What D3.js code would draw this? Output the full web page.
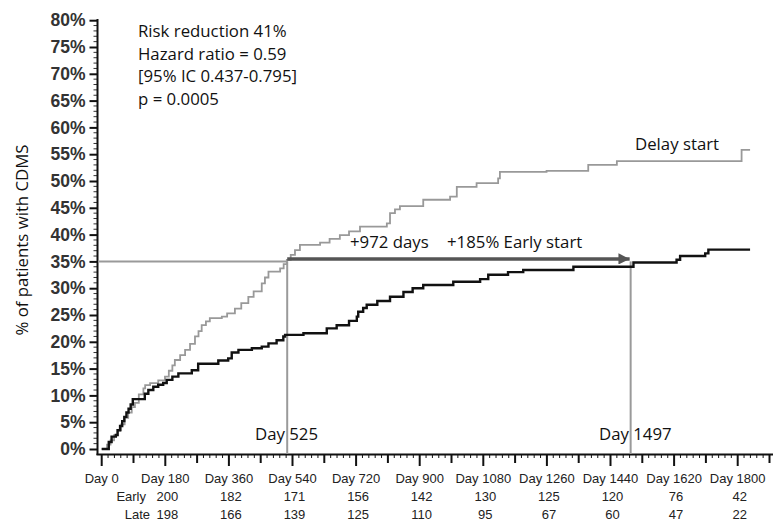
<!DOCTYPE html>
<html>
<head>
<meta charset="utf-8">
<script src="https://cdn.jsdelivr.net/npm/d3@7"></script>
<style>
  body { margin: 0; background: #fff; }
  svg { display: block; }
  .note { font-family: "Open Sans", sans-serif; font-size: 16.8px; fill: #111; }
  .ytick text { font-family: "Liberation Sans", Arial, sans-serif; font-size: 17.5px; font-weight: bold; fill: #333; }
  .xlab { font-family: "Liberation Sans", Arial, sans-serif; font-size: 13px; fill: #222; }
</style>
</head>
<body>
<svg id="chart" width="773" height="522"></svg>
<script>
// step curves: [day, % of patients with CDMS]
var early_days = [0, 20, 28, 40, 45, 52, 58, 64, 70, 76, 82, 88, 122, 132, 146, 160, 174, 184, 200, 217, 255, 273, 330, 358, 368, 387, 425, 453, 472, 495, 514, 519, 571, 637, 665, 700, 722, 726, 740, 750, 780, 816, 854, 880, 910, 995, 1071, 1094, 1150, 1193, 1335, 1505, 1627, 1637, 1708, 1717, 1835];
var early_pct = [0, 1.3, 2.3, 2.6, 3.5, 4.3, 5.2, 6.0, 6.8, 7.5, 8.3, 9.3, 10.3, 11.0, 11.6, 12.0, 12.3, 12.9, 13.5, 14.1, 14.7, 15.9, 16.5, 16.9, 18.0, 18.5, 18.8, 19.1, 19.7, 20.3, 21.0, 21.3, 21.6, 22.5, 23.1, 23.9, 24.7, 25.6, 26.3, 26.9, 27.6, 28.4, 29.3, 30.0, 30.6, 31.2, 31.7, 32.5, 33.0, 33.4, 34.0, 34.8, 35.3, 36.0, 36.5, 37.2, 37.2];

var delay_days = [0, 15, 25, 35, 45, 55, 65, 75, 85, 94, 105, 118, 123, 137, 160, 179, 190, 200, 207, 222, 236, 250, 264, 274, 283, 295, 306, 340, 355, 377, 395, 415, 430, 453, 462, 472, 505, 515, 524, 535, 547, 561, 618, 645, 674, 700, 731, 807, 816, 830, 844, 910, 986, 1005, 1061, 1122, 1127, 1259, 1377, 1458, 1811, 1835];
var delay_pct = [0, 0.8, 1.6, 2.6, 3.5, 4.6, 5.8, 6.8, 7.8, 8.6, 10.2, 11.3, 11.9, 12.3, 12.8, 13.5, 14.6, 15.6, 16.6, 17.5, 18.5, 19.6, 21.0, 22.0, 23.1, 23.8, 24.4, 24.7, 25.3, 26.2, 27.2, 28.4, 29.4, 30.9, 32.0, 33.1, 33.7, 34.5, 35.3, 36.2, 37.1, 38.1, 38.5, 39.2, 39.9, 40.6, 41.5, 42.1, 44.0, 44.7, 45.3, 46.5, 47.1, 48.9, 49.6, 50.5, 51.7, 51.9, 53.0, 53.7, 55.8, 55.8];

var label_days = [0, 180, 360, 540, 720, 900, 1080, 1260, 1440, 1620, 1800];
var at_risk_early = [200, 182, 171, 156, 142, 130, 125, 120, 76, 42];
var at_risk_late = [198, 166, 139, 125, 110, 95, 67, 60, 47, 22];

var y_ticks = d3.range(0, 81, 5);
var stats_lines = ['Risk reduction 41%', 'Hazard ratio = 0.59', '[95% IC 0.437-0.795]', 'p = 0.0005'];
var level_pct = 35;
var day_early = 525, day_late = 1497;

var svg = d3.select('#chart');

var x = d3.scaleLinear().domain([0, 1800]).range([101.7, 737.7]);
var y = d3.scaleLinear().domain([0, 80]).range([449, 20.2]);

// y axis
var gy = svg.append('g').attr('class', 'ytick').attr('transform', 'translate(97.5,0)');
gy.call(d3.axisLeft(y).tickValues(y_ticks).tickSize(8).tickPadding(4)
    .tickFormat(function(d) { return d + '%'; }));
gy.select('.domain').remove();
gy.selectAll('line').attr('stroke', '#111').attr('stroke-width', 2);
gy.selectAll('.minor').data(d3.range(0, 81, 1).filter(function(d) { return d % 5 != 0; }))
    .enter().append('line')
    .attr('x1', -4).attr('x2', 0)
    .attr('y1', function(d) { return y(d); }).attr('y2', function(d) { return y(d); })
    .attr('stroke', '#333').attr('stroke-width', 1);
svg.append('line').attr('x1', 97.5).attr('x2', 97.5).attr('y1', 19).attr('y2', 455)
    .attr('stroke', '#111').attr('stroke-width', 2);

// x axis
svg.append('line').attr('x1', 96.5).attr('x2', 773).attr('y1', 454.5).attr('y2', 454.5)
    .attr('stroke', '#111').attr('stroke-width', 2);
svg.append('g').selectAll('line').data(d3.range(0, 1910, 18)).enter().append('line')
    .attr('x1', function(d) { return x(d); }).attr('x2', function(d) { return x(d); })
    .attr('y1', 454)
    .attr('y2', function(d) { return d % 180 == 0 ? 466 : (d % 90 == 0 ? 463 : 458); })
    .attr('stroke', '#111')
    .attr('stroke-width', function(d) { return d % 90 == 0 ? 2 : 1; });

svg.append('g').selectAll('text').data(label_days).enter().append('text')
    .attr('class', 'xlab').attr('text-anchor', 'middle')
    .attr('x', function(d) { return x(d); }).attr('y', 483)
    .text(function(d) { return 'Day ' + d; });

var risk_days = label_days.slice(1);
svg.append('g').selectAll('text').data(risk_days).enter().append('text')
    .attr('class', 'xlab').attr('text-anchor', 'middle')
    .attr('x', function(d) { return x(d) + 2; }).attr('y', 501)
    .text(function(d, i) { return at_risk_early[i]; });
svg.append('g').selectAll('text').data(risk_days).enter().append('text')
    .attr('class', 'xlab').attr('text-anchor', 'middle')
    .attr('x', function(d) { return x(d) + 2; }).attr('y', 519)
    .text(function(d, i) { return at_risk_late[i]; });
svg.append('text').attr('class', 'xlab').attr('text-anchor', 'end')
    .attr('x', 146).attr('y', 501).text('Early');
svg.append('text').attr('class', 'xlab').attr('text-anchor', 'end')
    .attr('x', 150).attr('y', 519).text('Late');

// reference lines
var ref = '#9a9a9a';
svg.append('line').attr('x1', 98).attr('x2', x(day_early))
    .attr('y1', y(level_pct)).attr('y2', y(level_pct))
    .attr('stroke', ref).attr('stroke-width', 2);
[day_early, day_late].forEach(function(d) {
    svg.append('line').attr('x1', x(d)).attr('x2', x(d))
        .attr('y1', y(level_pct)).attr('y2', 454)
        .attr('stroke', ref).attr('stroke-width', 2);
});

// curves
var line = d3.line()
    .x(function(d) { return x(d[0]); })
    .y(function(d) { return y(d[1]); })
    .curve(d3.curveStepAfter);

svg.append('path').datum(d3.zip(delay_days, delay_pct))
    .attr('d', line).attr('fill', 'none')
    .attr('stroke', '#999').attr('stroke-width', 1.8);
svg.append('path').datum(d3.zip(early_days, early_pct))
    .attr('d', line).attr('fill', 'none')
    .attr('stroke', '#111').attr('stroke-width', 2.4);

// arrow
svg.append('defs').append('marker')
    .attr('id', 'head').attr('viewBox', '0 0 10 10')
    .attr('refX', 10).attr('refY', 5)
    .attr('markerWidth', 4).attr('markerHeight', 3.2)
    .attr('markerUnits', 'strokeWidth').attr('orient', 'auto')
    .append('path').attr('d', 'M0,0 L10,5 L0,10 Z').attr('fill', '#555');
svg.append('line').attr('x1', x(day_early)).attr('x2', x(day_late) - 1)
    .attr('y1', y(level_pct) - 2.5).attr('y2', y(level_pct) - 2.5)
    .attr('stroke', '#555').attr('stroke-width', 3.5)
    .attr('marker-end', 'url(#head)');

// text notes
svg.append('g').selectAll('text').data(stats_lines).enter().append('text')
    .attr('class', 'note').attr('x', 138)
    .attr('y', function(d, i) { return 37 + i * 22.7; })
    .text(function(d) { return d; });
svg.append('text').attr('class', 'note').attr('x', 635).attr('y', 150).text('Delay start');
svg.append('text').attr('class', 'note').attr('x', 350).attr('y', 248).text('+972 days');
svg.append('text').attr('class', 'note').attr('x', 447).attr('y', 248).text('+185% Early start');
svg.append('text').attr('class', 'note').attr('x', 255).attr('y', 440).text('Day 525');
svg.append('text').attr('class', 'note').attr('x', 599).attr('y', 440).text('Day 1497');
svg.append('text').attr('class', 'note')
    .attr('transform', 'translate(28,240) rotate(-90)')
    .attr('text-anchor', 'middle')
    .text('% of patients with CDMS');
</script>
</body>
</html>
